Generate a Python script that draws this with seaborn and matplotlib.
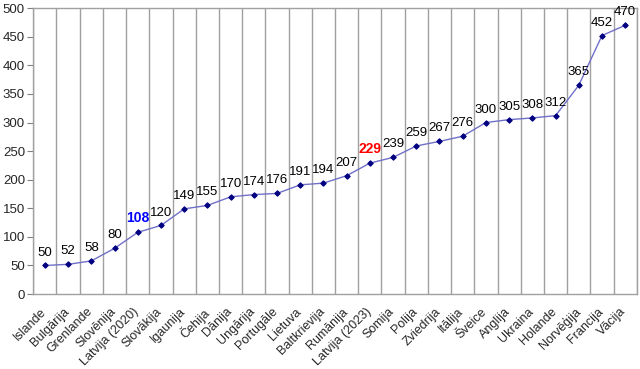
import numpy as np
import pandas as pd
import matplotlib
matplotlib.use("Agg")
import matplotlib.pyplot as plt
import matplotlib.transforms as mtrans
import seaborn as sns

# data
countries = ["Islande", "Bulgārija", "Grenlande", "Slovēnija", "Latvija (2020)",
             "Slovākija", "Igaunija", "Čehija", "Dānija", "Ungārija", "Portugāle",
             "Lietuva", "Baltkrievija", "Rumānija", "Latvija (2023)", "Somija",
             "Polija", "Zviedrija", "Itālija", "Šveice", "Anglija", "Ukraina",
             "Holande", "Norvēģija", "Francija", "Vācija"]
values = [50, 52, 58, 80, 108, 120, 149, 155, 170, 174, 176, 191, 194, 207,
          229, 239, 259, 267, 276, 300, 305, 308, 312, 365, 452, 470]
label_colors = {"Latvija (2020)": "#0000ff", "Latvija (2023)": "#ff0000"}

df = pd.DataFrame({"country": countries, "value": values})

sns.set_style("white")
plt.rcParams["font.family"] = ["Liberation Sans", "DejaVu Sans"]

fig = plt.figure(figsize=(6.4, 3.69), dpi=100)
ax = fig.add_axes([0.052, 0.203, 0.943, 0.775])

sns.lineplot(data=df, x="country", y="value", ax=ax, color="#7070c8",
             linewidth=1.0, marker="D", markersize=2.8,
             markerfacecolor="#000080", markeredgecolor="#000080")

n = len(countries)
ax.set_xlim(-0.5, n - 0.5)
ax.set_ylim(0, 500)
ax.set_yticks(range(0, 501, 50))
ax.set_xticks(range(n))
ax.set_xticklabels(countries, rotation=45, ha="right", va="top",
                   rotation_mode="anchor", fontsize=9)
ax.tick_params(axis="x", length=0, pad=4)
# shift the slanted labels down-left like the original
shift = mtrans.ScaledTranslation(-0.05, -0.06, fig.dpi_scale_trans)
for lbl in ax.get_xticklabels():
    lbl.set_transform(lbl.get_transform() + shift)
ax.set_xticks(np.arange(-0.5, n, 1), minor=True)
ax.tick_params(axis="x", which="minor", length=4, color="#808080", width=1)
ax.tick_params(axis="y", length=4, color="#808080", labelsize=9.5, pad=2, left=True)
ax.grid(True, axis="x", which="minor", color="#a0a0a0", linewidth=1)
ax.grid(False, axis="x", which="major")
ax.set_xlabel("")
ax.set_ylabel("")
for s in ax.spines.values():
    s.set_color("#a0a0a0")
    s.set_linewidth(1)

# value labels
for i, (c, v) in enumerate(zip(countries, values)):
    col = label_colors.get(c, "black")
    special = c in label_colors
    ax.annotate(str(v), (i, v), xytext=(0, 5), textcoords="offset points",
                ha="center", va="bottom", fontsize=10 if special else 9.5,
                color=col, fontweight="bold" if special else "normal")

fig.savefig("out.png", dpi=100)
